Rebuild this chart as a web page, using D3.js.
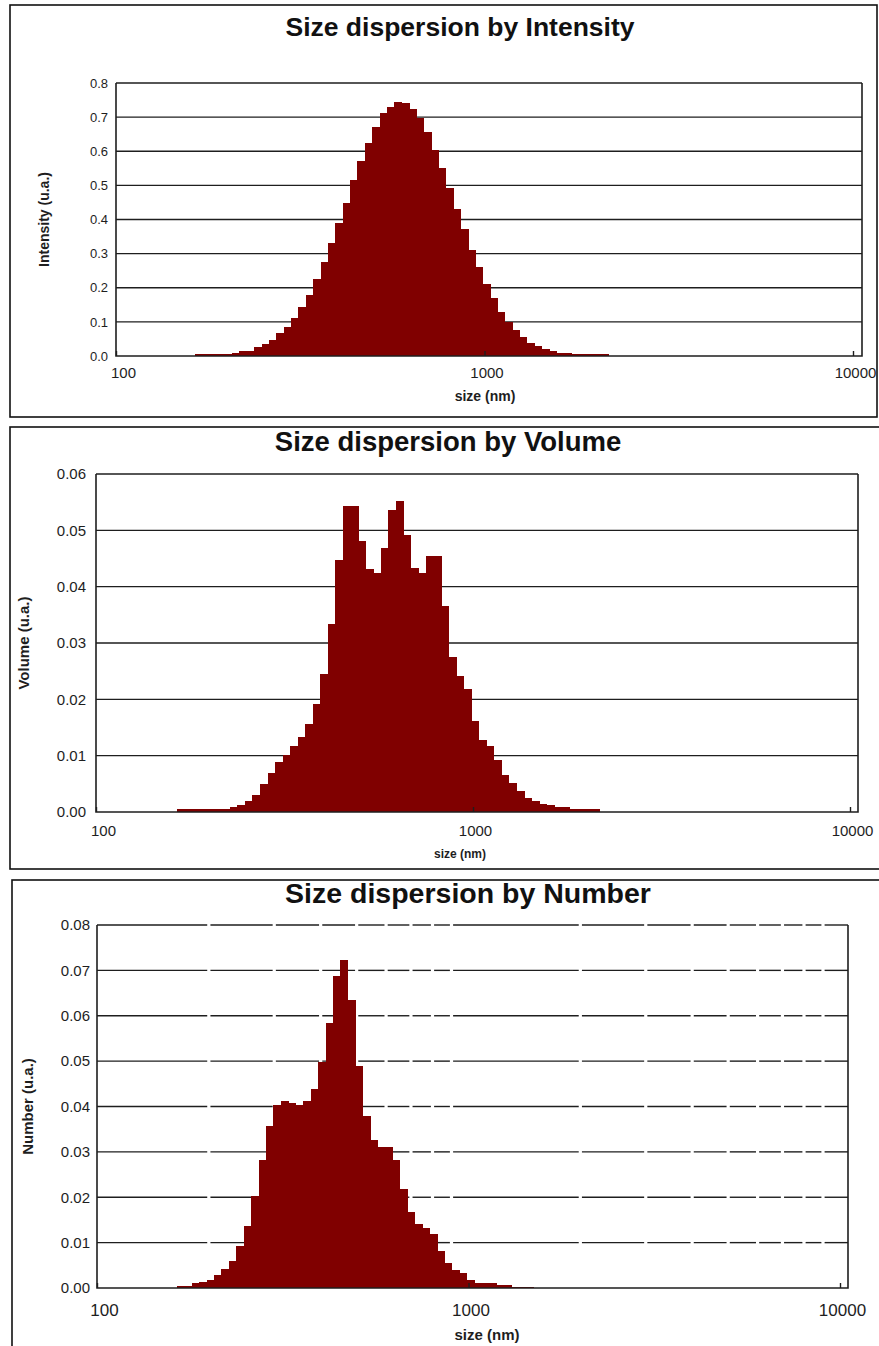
<!DOCTYPE html>
<html>
<head>
<meta charset="utf-8">
<script src="https://cdn.jsdelivr.net/npm/d3@7"></script>
<style>
  body { margin: 0; background: #fff; }
  svg { display: block; }
</style>
</head>
<body>
<div id="chart"></div>
<script>
// size classes (nm) : lower edges of the 56 bins, log spaced
const binEdges = [164.1, 171.8, 179.9, 188.4, 197.2, 206.5, 216.3, 226.5, 237.2, 248.3,
                  260.0, 272.3, 285.1, 298.6, 312.6, 327.4, 342.8, 359.0, 375.9, 393.6,
                  412.2, 431.6, 451.9, 473.2, 495.5, 518.9, 543.3, 568.9, 595.7, 623.8,
                  653.2, 684.0, 716.2, 750.0, 785.3, 822.3, 861.1, 901.7, 944.2, 988.7,
                  1035.3, 1084.1, 1135.2, 1188.7, 1244.7, 1303.3, 1364.8, 1429.1, 1496.4, 1566.9,
                  1640.8, 1718.1, 1799.1, 1883.9, 1972.7, 2065.6, 2163.0];

const intensity = [0.006, 0.006, 0.006, 0.006, 0.006, 0.010, 0.016, 0.016, 0.025, 0.035,
                   0.047, 0.066, 0.086, 0.110, 0.145, 0.180, 0.225, 0.275, 0.330, 0.390,
                   0.449, 0.516, 0.571, 0.625, 0.671, 0.711, 0.731, 0.745, 0.741, 0.725,
                   0.696, 0.655, 0.605, 0.551, 0.491, 0.431, 0.371, 0.310, 0.260, 0.210,
                   0.170, 0.130, 0.099, 0.076, 0.055, 0.039, 0.029, 0.021, 0.016, 0.010,
                   0.010, 0.006, 0.006, 0.006, 0.006, 0.006];

const volume = [0.0005, 0.0005, 0.0005, 0.0005, 0.0005, 0.0005, 0.0005, 0.0008, 0.0012, 0.0019,
                0.0031, 0.0049, 0.0069, 0.0089, 0.0102, 0.0117, 0.0133, 0.0156, 0.0191, 0.0245,
                0.0333, 0.0447, 0.0543, 0.0543, 0.0481, 0.0431, 0.0424, 0.0468, 0.0536, 0.0552,
                0.0491, 0.0434, 0.0424, 0.0454, 0.0454, 0.0366, 0.0275, 0.0241, 0.0218, 0.0161,
                0.0127, 0.0117, 0.0093, 0.0066, 0.0051, 0.0038, 0.0025, 0.0020, 0.0015, 0.0012,
                0.0008, 0.0008, 0.0005, 0.0005, 0.0005, 0.0005];

const number = [0.0005, 0.0005, 0.0010, 0.0014, 0.0018, 0.0028, 0.0041, 0.0060, 0.0092, 0.0136,
                0.0203, 0.0282, 0.0358, 0.0403, 0.0412, 0.0408, 0.0404, 0.0412, 0.0439, 0.0499,
                0.0584, 0.0688, 0.0723, 0.0634, 0.0489, 0.0380, 0.0326, 0.0311, 0.0311, 0.0282,
                0.0218, 0.0168, 0.0142, 0.0133, 0.0118, 0.0082, 0.0055, 0.0040, 0.0033, 0.0017,
                0.0011, 0.0011, 0.0011, 0.0006, 0.0006, 0.0003, 0.0003, 0.0003];

const xTicks = [100, 1000, 10000];
const xMinor = [200, 300, 400, 500, 600, 700, 800, 900, 2000, 3000, 4000, 5000, 6000, 7000, 8000, 9000];
const intensityTicks = [0, 0.1, 0.2, 0.3, 0.4, 0.5, 0.6, 0.7, 0.8];
const volumeTicks = [0, 0.01, 0.02, 0.03, 0.04, 0.05, 0.06];
const numberTicks = [0, 0.01, 0.02, 0.03, 0.04, 0.05, 0.06, 0.07, 0.08];

const W = 879, H = 1346;
const font = "'Liberation Sans', Arial, Helvetica, sans-serif";
const barColor = "#800000";
const ink = "#1e1e1e";

const svg = d3.select("#chart").append("svg").attr("width", W).attr("height", H);

// one entry per stacked chart (layout only)
const panels = [
  { title: "Size dispersion by Intensity", yLabel: "Intensity (u.a.)", values: intensity, yTicks: intensityTicks, fmt: d3.format(".1f"),
    frame: {x: 10, y: 5, w: 867, h: 412},
    plot: {left: 116, top: 83, right: 862, bottom: 356, x10k: 853},
    titlePos: {x: 460, y: 36, size: 26.5},
    yTickFont: 13, yTickGap: 8, yLab: {x: 44, size: 14},
    xTickFont: 15, xTickBase: 378, xLab: {x: 485, y: 401, size: 14},
    dashed: false },
  { title: "Size dispersion by Volume", yLabel: "Volume (u.a.)", values: volume, yTicks: volumeTicks, fmt: d3.format(".2f"),
    frame: {x: 10, y: 427, w: 890, h: 442},
    plot: {left: 96, top: 474, right: 858, bottom: 812, x10k: 850},
    titlePos: {x: 448, y: 451, size: 27.5},
    yTickFont: 15, yTickGap: 10, yLab: {x: 24, size: 15},
    xTickFont: 15, xTickBase: 836, xLab: {x: 460, y: 858, size: 12},
    dashed: false },
  { title: "Size dispersion by Number", yLabel: "Number (u.a.)", values: number, yTicks: numberTicks, fmt: d3.format(".2f"),
    frame: {x: 12, y: 880, w: 890, h: 490},
    plot: {left: 97, top: 925, right: 848, bottom: 1288, x10k: 840},
    titlePos: {x: 468, y: 903, size: 28.5},
    yTickFont: 15, yTickGap: 7, yLab: {x: 28, size: 15},
    xTickFont: 17, xTickBase: 1316, xLab: {x: 487, y: 1340, size: 15},
    dashed: true }
];

panels.forEach(drawPanel);

function drawPanel(p) {
  const g = svg.append("g");
  const pl = p.plot;

  const x = d3.scaleLog().domain([100, 10000]).range([pl.left, pl.x10k]);
  const y = d3.scaleLinear().domain([0, d3.max(p.yTicks)]).range([pl.bottom, pl.top]);

  // outer frame
  g.append("rect")
    .attr("x", p.frame.x).attr("y", p.frame.y)
    .attr("width", p.frame.w).attr("height", p.frame.h)
    .attr("fill", "none").attr("stroke", "#111").attr("stroke-width", 1.6);

  // horizontal grid (the top one doubles as the plot border)
  const grid = g.append("g").attr("stroke", ink).attr("stroke-width", 1.4);
  p.yTicks.filter(t => t > 0).forEach(t => {
    const yy = y(t);
    if (!p.dashed) {
      grid.append("line").attr("x1", pl.left).attr("x2", pl.right).attr("y1", yy).attr("y2", yy);
    } else {
      // broken at the minor log ticks
      const stops = [pl.left, ...xMinor.map(x), pl.right];
      for (let i = 0; i < stops.length - 1; i++) {
        const a = i === 0 ? stops[i] : stops[i] + 1.6;
        const b = i === stops.length - 2 ? stops[i + 1] : stops[i + 1] - 1.6;
        grid.append("line").attr("x1", a).attr("x2", b).attr("y1", yy).attr("y2", yy);
      }
    }
  });

  // histogram bars
  g.append("g")
    .attr("shape-rendering", "crispEdges")
    .selectAll("rect")
    .data(p.values)
    .join("rect")
    .attr("x", (d, i) => x(binEdges[i]))
    .attr("width", (d, i) => x(binEdges[i + 1]) - x(binEdges[i]) + 0.6)
    .attr("y", d => y(d))
    .attr("height", d => y(0) - y(d))
    .attr("fill", barColor);

  // plot border: left, bottom, right
  g.append("path")
    .attr("d", `M${pl.left},${pl.top}V${pl.bottom}H${pl.right}V${pl.top}`)
    .attr("fill", "none").attr("stroke", ink).attr("stroke-width", 1.6);

  // x axis
  const xAxis = g.append("g")
    .attr("transform", `translate(0,${pl.bottom})`)
    .call(d3.axisBottom(x).tickValues(xTicks).tickSizeInner(-5).tickSizeOuter(0).tickFormat(d3.format("d")));
  xAxis.select(".domain").remove();
  xAxis.selectAll(".tick line").attr("stroke", ink).attr("stroke-width", 1.4);
  xAxis.selectAll(".tick text")
    .attr("y", p.xTickBase - pl.bottom).attr("dy", null)
    .attr("dx", (d, i) => i === 0 ? 7 : 2)
    .attr("fill", ink)
    .style("font-family", font).style("font-size", p.xTickFont + "px");

  // y axis labels
  const yAxis = g.append("g")
    .attr("transform", `translate(${pl.left},0)`)
    .call(d3.axisLeft(y).tickValues(p.yTicks).tickSize(0).tickPadding(p.yTickGap).tickFormat(p.fmt));
  yAxis.select(".domain").remove();
  yAxis.selectAll(".tick text")
    .attr("fill", ink)
    .style("font-family", font).style("font-size", p.yTickFont + "px");

  // titles
  g.append("text")
    .attr("x", p.titlePos.x).attr("y", p.titlePos.y)
    .attr("text-anchor", "middle")
    .style("font-family", font).style("font-weight", "bold").style("font-size", p.titlePos.size + "px")
    .attr("fill", "#111")
    .text(p.title);

  g.append("text")
    .attr("transform", `translate(${p.yLab.x},${(pl.top + pl.bottom) / 2}) rotate(-90)`)
    .attr("text-anchor", "middle").attr("dy", "0.35em")
    .style("font-family", font).style("font-weight", "bold").style("font-size", p.yLab.size + "px")
    .attr("fill", ink)
    .text(p.yLabel);

  g.append("text")
    .attr("x", p.xLab.x).attr("y", p.xLab.y)
    .attr("text-anchor", "middle")
    .style("font-family", font).style("font-weight", "bold").style("font-size", p.xLab.size + "px")
    .attr("fill", ink)
    .text("size (nm)");
}
</script>
</body>
</html>
